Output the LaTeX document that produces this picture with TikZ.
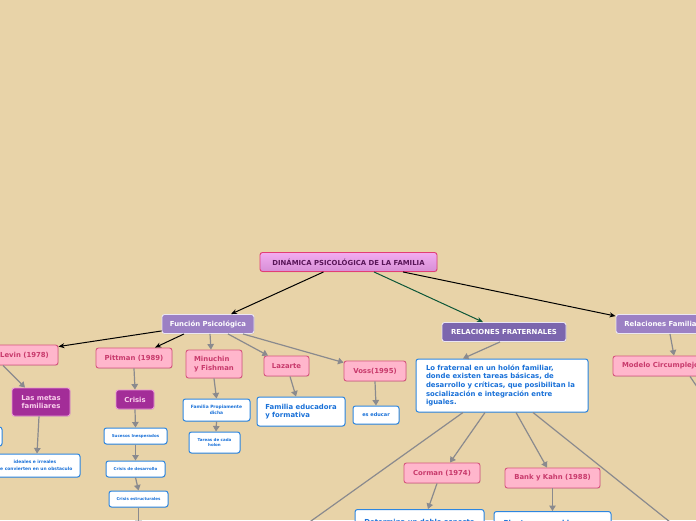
\documentclass[tikz,border=0pt]{standalone}
\usepackage{fontspec}
\setmainfont{DejaVu Sans}
\usetikzlibrary{arrows.meta,shadows}

\definecolor{pozadi}{RGB}{232,211,168}
\definecolor{korenhore}{RGB}{242,172,240}
\definecolor{korendole}{RGB}{214,142,214}
\definecolor{korenokraj}{RGB}{226,62,118}
\definecolor{korentext}{RGB}{88,22,88}
\definecolor{fialova}{RGB}{156,128,196}
\definecolor{fialovatmava}{RGB}{124,102,174}
\definecolor{ruzova}{RGB}{255,182,204}
\definecolor{ruzovaokraj}{RGB}{214,86,126}
\definecolor{ruzovatext}{RGB}{200,58,108}
\definecolor{purpurova}{RGB}{163,45,152}
\definecolor{purpurokraj}{RGB}{236,150,216}
\definecolor{purpurtext}{RGB}{250,208,236}
\definecolor{modra}{RGB}{45,134,224}
\definecolor{modratext}{RGB}{24,112,216}
\definecolor{seda}{RGB}{138,138,142}
\definecolor{zelena}{RGB}{12,86,56}

\begin{document}
\begin{tikzpicture}[x=1pt,y=-1pt,
  uzel/.style={rounded corners=2.5pt, line width=0.9pt, inner sep=2pt,
    font=\bfseries\fontsize{6.9}{8.6}\selectfont,
    drop shadow={shadow xshift=0.5pt, shadow yshift=-0.8pt, opacity=0.2}},
  koren/.style={uzel, draw=korenokraj, top color=korenhore, bottom color=korendole, text=korentext},
  fialovy/.style={uzel, draw=white!80!fialova, fill=fialova, text=white},
  ruzovy/.style={uzel, draw=ruzovaokraj, fill=ruzova, text=ruzovatext},
  purpur/.style={uzel, draw=purpurokraj, fill=purpurova, text=purpurtext},
  bily/.style={uzel, draw=modra, fill=white, text=modratext, line width=1pt},
  drobny/.style={bily, font=\bfseries\fontsize{4}{5.2}\selectfont},
  hrana/.style={draw=seda, line width=1.2pt, -{Triangle[length=5.5pt,width=6.5pt]}},
  cerna/.style={draw=black, line width=1pt, -{Stealth[length=6pt,width=5pt]}},
]
  % --- PLOCHA ---
  \useasboundingbox (0,0) rectangle (696,520);
  \fill[pozadi] (0,0) rectangle (696,520);
  \clip (0,0) rectangle (696,520);

  % --- KOŘEN A HLAVNÍ VĚTVE ---
  \node[koren, minimum width=177pt, minimum height=19pt] (dinamika) at (348.5,262) {DINÁMICA PSICOLÓGICA DE LA FAMILIA};
  \node[fialovy, minimum width=92pt, minimum height=19pt] (funkce) at (208,324) {Función Psicológica};
  \node[fialovy, fill=fialovatmava, minimum width=124pt, minimum height=19pt] (fraternal) at (504,332) {RELACIONES FRATERNALES};
  \node[fialovy, minimum width=101pt, minimum height=19pt] (familiares) at (666.5,324) {Relaciones Familiares};

  % --- FUNKCE: AUTOŘI ---
  \node[ruzovy, minimum width=67pt, minimum height=20pt] (levin) at (24.5,355) {Levin (1978)};
  \node[ruzovy, minimum width=76pt, minimum height=20pt] (pittman) at (134,358) {Pittman (1989)};
  \node[ruzovy, minimum width=56pt, minimum height=28pt, align=left] (minuchin) at (214,364) {Minuchin\\y Fishman};
  \node[ruzovy, minimum width=45pt, minimum height=20pt] (lazarte) at (286.5,366) {Lazarte};
  \node[ruzovy, minimum width=62pt, minimum height=20pt] (voss) at (375,371) {Voss(1995)};

  % Levin
  \node[purpur, minimum width=58pt, minimum height=28pt, align=center] (metas) at (41,402) {Las metas\\familiares};
  \node[drobny, minimum width=44pt, minimum height=19pt] (skryty) at (-20,436.5) {};
  \node[drobny, font=\bfseries\fontsize{4.4}{6.4}\selectfont, minimum width=90pt, minimum height=23pt, align=center] (ideales) at (35,465.5) {ideales e irreales\\se convierten en un obstaculo};

  % Pittman
  \node[purpur, minimum width=38pt, minimum height=19pt] (krize) at (135,399.5) {Crisis};
  \node[drobny, minimum width=63pt, minimum height=16pt] (sucesos) at (135.5,436) {Sucesos Inesperados};
  \node[drobny, minimum width=59pt, minimum height=16pt] (desarrollo) at (135.5,469) {Crisis de desarrollo};
  \node[drobny, minimum width=59pt, minimum height=16pt] (estructurales) at (138.5,499) {Crisis estructurales};
  \coordinate (pittmandal) at (138.5,526);

  % Minuchin, Lazarte, Voss
  \node[drobny, font=\bfseries\fontsize{4.4}{6}\selectfont, minimum width=67pt, minimum height=22pt, align=center] (propiamente) at (216.5,410) {Familia Propiamente\\dicha};
  \node[drobny, minimum width=51pt, minimum height=21pt, align=center] (tareas) at (214.5,442.5) {Tareas de cada\\holon};
  \node[bily, minimum width=88pt, minimum height=29pt, align=left] (educadora) at (301,411.5) {Familia educadora\\y formativa};
  \node[drobny, font=\bfseries\fontsize{5}{6}\selectfont, minimum width=46pt, minimum height=18pt] (educar) at (376,415) {es educar};

  % --- BRATRSKÉ VZTAHY ---
  \node[bily, minimum width=172pt, minimum height=53pt, text width=152pt, inner xsep=10pt, align=left] (holon) at (502,385.5)
    {Lo fraternal en un holón familiar,\\donde existen tareas básicas, de\\desarrollo y críticas, que posibilitan la\\socialización e integración entre\\iguales.};
  \node[ruzovy, minimum width=76pt, minimum height=20pt] (corman) at (442,473) {Corman (1974)};
  \node[ruzovy, minimum width=95pt, minimum height=20pt] (bank) at (552.5,478) {Bank y Kahn (1988)};
  \node[bily, anchor=north, minimum width=129pt, inner ysep=9.5pt, text depth=12pt] (doble) at (419.5,509) {Determina un doble aspecto};
  \node[bily, anchor=north, minimum width=117pt, inner ysep=8.5pt, text depth=12pt] (plantean) at (552.5,511) {Plantean que el hermano};
  \coordinate (holonvlevo) at (290,536);
  \coordinate (holonvpravo) at (690,538);

  % --- RODINNÉ VZTAHY ---
  \node[ruzovy, minimum width=95pt, minimum height=20pt] (modelo) at (660.5,366) {Modelo Circumplejo};
  \coordinate (modelodal) at (706,400);

  % --- HRANY ---
  \draw[cerna] ([xshift=-25pt]dinamika.south) -- ([xshift=23pt]funkce.north);
  \draw[cerna, draw=zelena] ([xshift=25.5pt]dinamika.south) -- ([xshift=-21pt]fraternal.north);
  \draw[cerna] ([xshift=54.5pt]dinamika.south) -- ([yshift=-2pt]familiares.north west);

  \draw[cerna] ([yshift=3pt]funkce.south west) -- ([yshift=-2pt]levin.north east);
  \draw[cerna] ([xshift=-24pt]funkce.south) -- ([xshift=21pt]pittman.north);
  \draw[hrana] ([xshift=2pt]funkce.south) -- ([xshift=-3pt]minuchin.north);
  \draw[hrana] ([xshift=20pt]funkce.south) -- ([xshift=-18.5pt]lazarte.north);
  \draw[hrana] ([xshift=35pt]funkce.south) -- ([yshift=-2pt]voss.north west);

  \draw[hrana] ([xshift=-21.5pt]levin.south) -- ([xshift=-16pt]metas.north);
  \draw[hrana] ([xshift=-2pt]metas.south) -- ([xshift=2pt]ideales.north);
  \draw[hrana] (pittman.south) -- (krize.north);
  \draw[hrana] (krize.south) -- (sucesos.north);
  \draw[hrana] (sucesos.south) -- (desarrollo.north);
  \draw[hrana] (desarrollo.south) -- (estructurales.north);
  \draw[hrana] (estructurales.south) -- (pittmandal);
  \draw[hrana] (minuchin.south) -- (propiamente.north);
  \draw[hrana] (propiamente.south) -- ([xshift=1.5pt]tareas.north);
  \draw[hrana] ([xshift=3.5pt]lazarte.south) -- ([xshift=-5pt]educadora.north);
  \draw[hrana] (voss.south) -- (educar.north);

  \draw[hrana] ([xshift=-4pt]fraternal.south) -- ([xshift=-39pt]holon.north);
  \draw[hrana] ([xshift=-17pt]holon.south) -- ([xshift=8pt]corman.north);
  \draw[hrana] ([xshift=14pt]holon.south) -- ([xshift=-5.5pt]bank.north);
  \draw[hrana] ([xshift=-39pt]holon.south) -- (holonvlevo);
  \draw[hrana] ([xshift=31pt]holon.south) -- (holonvpravo);
  \draw[hrana] ([xshift=-5pt]corman.south) -- ([xshift=8.5pt]doble.north);
  \draw[hrana] (bank.south) -- (plantean.north);

  \draw[hrana] ([xshift=3.5pt]familiares.south) -- ([xshift=13.5pt]modelo.north);
  \draw[hrana] ([xshift=29.5pt]modelo.south) -- (modelodal);
\end{tikzpicture}
\end{document}
